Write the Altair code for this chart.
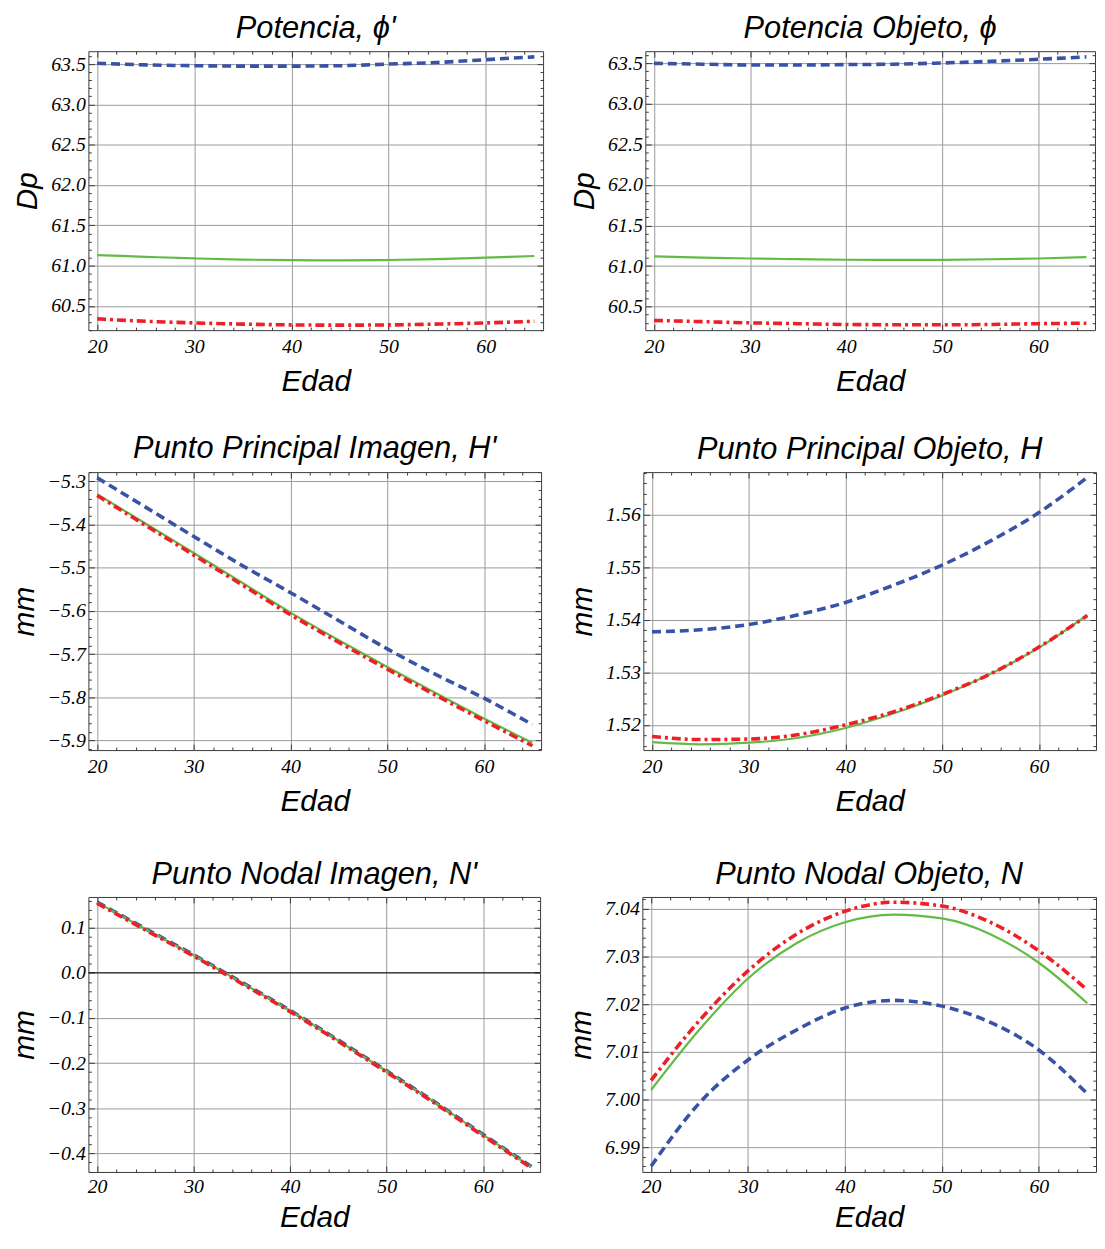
import math
import altair as alt
import pandas as pd

# ---------------- data ----------------
edad = [20, 25, 30, 35, 40, 45, 50, 55, 60, 65]
series = ["Modelo 1", "Modelo 2", "Modelo 3"]

# Potencia, phi'
pot_img_1 = [63.51, 63.49, 63.48, 63.475, 63.475, 63.48, 63.50, 63.52, 63.555, 63.59]
pot_img_2 = [61.13, 61.11, 61.09, 61.075, 61.068, 61.066, 61.07, 61.08, 61.10, 61.12]
pot_img_3 = [60.34, 60.31, 60.29, 60.275, 60.265, 60.262, 60.265, 60.275, 60.29, 60.31]

# Potencia Objeto, phi
pot_obj_1 = [63.50, 63.49, 63.48, 63.48, 63.485, 63.49, 63.505, 63.525, 63.55, 63.58]
pot_obj_2 = [61.12, 61.105, 61.094, 61.085, 61.078, 61.076, 61.077, 61.084, 61.094, 61.11]
pot_obj_3 = [60.33, 60.315, 60.30, 60.29, 60.28, 60.277, 60.276, 60.28, 60.29, 60.296]

# Punto Principal Imagen, H'
pp_img_1 = [-5.292, -5.360, -5.428, -5.495, -5.558, -5.623, -5.688, -5.747, -5.802, -5.863]
pp_img_2 = [-5.330, -5.398, -5.466, -5.535, -5.604, -5.668, -5.730, -5.790, -5.849, -5.905]
pp_img_3 = [-5.333, -5.402, -5.471, -5.540, -5.609, -5.673, -5.735, -5.795, -5.854, -5.912]

# Punto Principal Objeto, H
pp_obj_1 = [1.5377, 1.5381, 1.5391, 1.5409, 1.5433, 1.5466, 1.5504, 1.5550, 1.5604, 1.5671]
pp_obj_2 = [1.5167, 1.5163, 1.5166, 1.5175, 1.5194, 1.5222, 1.5256, 1.5297, 1.5347, 1.5409]
pp_obj_3 = [1.5178, 1.5172, 1.5173, 1.5181, 1.5200, 1.5225, 1.5258, 1.5297, 1.5348, 1.5408]

# Punto Nodal Imagen, N'
pn_img_1 = [0.157, 0.098, 0.040, -0.021, -0.083, -0.149, -0.217, -0.286, -0.358, -0.429]
pn_img_2 = [0.156, 0.097, 0.039, -0.022, -0.084, -0.150, -0.218, -0.287, -0.359, -0.430]
pn_img_3 = [0.154, 0.095, 0.037, -0.024, -0.086, -0.152, -0.220, -0.289, -0.361, -0.432]

# Punto Nodal Objeto, N
pn_obj_1 = [6.9860, 6.9993, 7.0083, 7.0146, 7.0192, 7.0208, 7.0196, 7.0162, 7.0104, 7.0012]
pn_obj_2 = [7.0020, 7.0147, 7.0254, 7.0328, 7.0372, 7.0388, 7.0380, 7.0347, 7.0287, 7.0202]
pn_obj_3 = [7.0040, 7.0166, 7.0270, 7.0347, 7.0395, 7.0414, 7.0406, 7.0372, 7.0312, 7.0230]

# tick labels
x_labels = [20, 30, 40, 50, 60]
y_labels_pot = [60.5, 61.0, 61.5, 62.0, 62.5, 63.0, 63.5]
y_labels_ppi = [-5.9, -5.8, -5.7, -5.6, -5.5, -5.4, -5.3]
y_labels_ppo = [1.52, 1.53, 1.54, 1.55, 1.56]
y_labels_pni = [-0.4, -0.3, -0.2, -0.1, 0.0, 0.1]
y_labels_pno = [6.99, 7.00, 7.01, 7.02, 7.03, 7.04]

# ---------------- styles ----------------
X_DOMAIN = [19.1, 65.9]
FRAME = "#3a3a3a"
GRID = "#9a9a9a"
LABEL_FONT = "Liberation Serif"
TEXT_FONT = "Liberation Sans"
STYLES = {
    "Modelo 1": dict(color="#3853a6", strokeWidth=3.6, strokeDash=[9, 5]),
    "Modelo 2": dict(color="#63bb47", strokeWidth=2.2),
    "Modelo 3": dict(color="#ee1f26", strokeWidth=3.6, strokeDash=[9, 4, 3, 4]),
}


def tick_values(lo, hi, step):
    a = math.ceil(lo / step - 1e-9)
    b = math.floor(hi / step + 1e-9)
    return [round(k * step, 6) for k in range(a, b + 1)]


def tick_axis(orient, offset, values, major):
    test = f"abs(datum.value / {major} - round(datum.value / {major})) < 0.001"
    return alt.Axis(
        orient=orient, offset=offset, values=values, labels=False, grid=False,
        domain=False, ticks=True, tickColor=FRAME, tickWidth=1,
        tickSize={"condition": {"test": test, "value": 6}, "value": 3},
    )


def main_x_axis(label_pad, title_pad):
    return alt.Axis(
        orient="bottom", values=x_labels, format="d", grid=True, gridColor=GRID,
        gridWidth=1, ticks=False, domain=False, labelFont=LABEL_FONT,
        labelFontSize=20, labelFontStyle="italic", labelColor="black",
        labelPadding=label_pad, labelFlush=False, titleFont=TEXT_FONT,
        titleFontSize=30, titleFontStyle="italic", titleFontWeight="normal",
        titleColor="black", titlePadding=title_pad,
    )


def main_y_axis(values, fmt):
    return alt.Axis(
        orient="left", values=values, format=fmt, grid=True, gridColor=GRID,
        gridWidth=1, ticks=False, domain=False, labelFont=LABEL_FONT,
        labelFontSize=20, labelFontStyle="italic", labelColor="black",
        labelPadding=3, labelFlush=False, titleFont=TEXT_FONT, titleFontSize=30,
        titleFontStyle="italic", titleFontWeight="normal", titleColor="black",
        titlePadding=8,
    )


def panel(title, ytitle, s1, s2, s3, ydom, ylabels, ymajor, yminor, fmt, w, h,
          zero=False, label_pad=7, title_pad=10):
    df = pd.DataFrame({
        "Edad": edad * 3,
        "valor": s1 + s2 + s3,
        "serie": [series[0]] * len(edad) + [series[1]] * len(edad) + [series[2]] * len(edad),
    })
    xs = alt.Scale(domain=X_DOMAIN, nice=False, zero=False)
    ys = alt.Scale(domain=ydom, nice=False, zero=False)
    base = alt.Chart(df)
    xt = tick_values(X_DOMAIN[0], X_DOMAIN[1], 2)
    yt = tick_values(ydom[0], ydom[1], yminor)

    ghost_a = base.mark_line(strokeOpacity=0).encode(
        x=alt.X("Edad:Q", scale=xs, title=None, axis=tick_axis("top", -h, xt, 10)),
        y=alt.Y("valor:Q", scale=ys, title=None, axis=tick_axis("right", -w, yt, ymajor)),
        detail="serie:N",
    )
    ghost_b = base.mark_line(strokeOpacity=0).encode(
        x=alt.X("Edad:Q", scale=xs, title=None, axis=tick_axis("bottom", -h, xt, 10)),
        y=alt.Y("valor:Q", scale=ys, title=None, axis=tick_axis("left", -w, yt, ymajor)),
        detail="serie:N",
    )
    layers = [ghost_a, ghost_b]
    if zero:
        zdf = pd.DataFrame({"cero": [0.0]})
        layers.append(
            alt.Chart(zdf).mark_rule(color="black", strokeWidth=1).encode(
                y=alt.Y("cero:Q", scale=ys, axis=None)
            )
        )
    for i, name in enumerate(series):
        st = STYLES[name]
        if i == 0:
            xa = alt.X("Edad:Q", scale=xs, title="Edad", axis=main_x_axis(label_pad, title_pad))
            ya = alt.Y("valor:Q", scale=ys, title=ytitle, axis=main_y_axis(ylabels, fmt))
        else:
            xa = alt.X("Edad:Q", scale=xs, axis=None)
            ya = alt.Y("valor:Q", scale=ys, axis=None)
        layers.append(
            base.transform_filter(alt.datum.serie == name)
            .mark_line(interpolate="monotone", clip=True, **st)
            .encode(x=xa, y=ya)
        )
    return (
        alt.layer(*layers)
        .resolve_axis(x="independent", y="independent")
        .properties(
            width=w, height=h,
            title=alt.TitleParams(
                title, font=TEXT_FONT, fontSize=31, fontStyle="italic",
                fontWeight="normal", color="black", anchor="middle",
                frame="group", offset=6,
            ),
        )
    )


p1 = panel("Potencia, ϕ'", "Dp", pot_img_1, pot_img_2, pot_img_3,
           [60.2, 63.66], y_labels_pot, 0.5, 0.1, ".1f", 458, 281)
p2 = panel("Potencia Objeto, ϕ", "Dp", pot_obj_1, pot_obj_2, pot_obj_3,
           [60.21, 63.65], y_labels_pot, 0.5, 0.1, ".1f", 453, 281)
p3 = panel("Punto Principal Imagen, H'", "mm", pp_img_1, pp_img_2, pp_img_3,
           [-5.922, -5.279], y_labels_ppi, 0.1, 0.02, ".1f", 456, 280)
p4 = panel("Punto Principal Objeto, H", "mm", pp_obj_1, pp_obj_2, pp_obj_3,
           [1.5152, 1.5681], y_labels_ppo, 0.01, 0.002, ".2f", 456, 280)
p5 = panel("Punto Nodal Imagen, N'", "mm", pn_img_1, pn_img_2, pn_img_3,
           [-0.441, 0.168], y_labels_pni, 0.1, 0.02, ".1f", 455, 277, zero=True,
           label_pad=5, title_pad=6)
p6 = panel("Punto Nodal Objeto, N", "mm", pn_obj_1, pn_obj_2, pn_obj_3,
           [6.9848, 7.0425], y_labels_pno, 0.01, 0.002, ".2f", 457, 277,
           label_pad=5, title_pad=6)

chart = (
    alt.vconcat(
        alt.vconcat(
            alt.hconcat(p1, p2, spacing=25),
            alt.hconcat(p3, p4, spacing=25),
            spacing=35,
        ),
        alt.hconcat(p5, p6, spacing=25),
        spacing=41,
    )
    .properties(padding={"left": 1, "top": 0, "right": 0, "bottom": 0})
    .configure_view(stroke=FRAME, strokeWidth=1)
)

chart.save("out.html", embed_options={"renderer": "svg", "actions": False})
